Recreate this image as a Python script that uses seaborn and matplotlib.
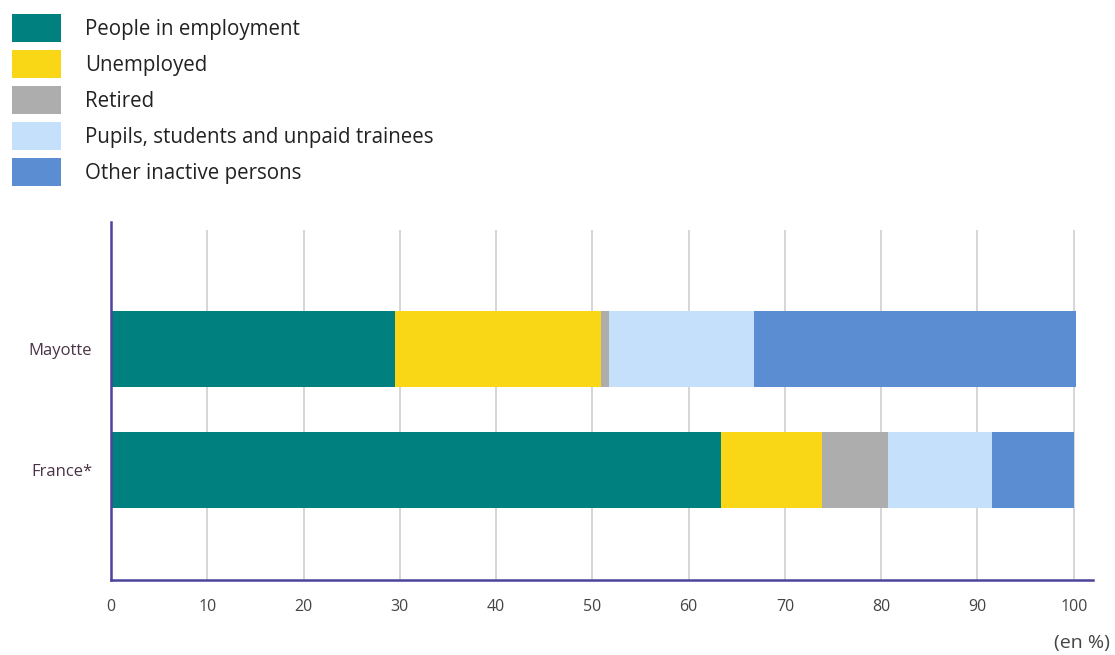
import matplotlib
matplotlib.use("Agg")
import matplotlib.pyplot as plt
from matplotlib.patches import Patch
import numpy as np
import pandas as pd
import seaborn as sns

# Activity status of the population aged 15-64 (in %)
regions = ["Mayotte", "France*"]
statuses = [
    "People in employment",
    "Unemployed",
    "Retired",
    "Pupils, students and unpaid trainees",
    "Other inactive persons",
]
employed = [29.5, 63.4]
unemployed = [21.4, 10.5]
retired = [0.8, 6.8]
students = [15.1, 10.8]
other_inactive = [33.4, 8.5]
x_ticks = [0, 10, 20, 30, 40, 50, 60, 70, 80, 90, 100]

colors = ["#00807f", "#f9d616", "#adadad", "#c5e0fa", "#5b8dd3"]
spine_color = "#4c449c"

sns.set_theme(style="white")
plt.rcParams["font.family"] = ["Open Sans", "DejaVu Sans"]

series = [employed, unemployed, retired, students, other_inactive]
cum = np.cumsum(np.array(series), axis=0)

fig = plt.figure(figsize=(11.15, 6.55), dpi=100)
ax = fig.add_axes([111 / 1115, 75 / 655, (1093 - 111) / 1115, (580 - 222) / 655])

# stacked bars: draw cumulative totals from the outermost segment inwards
for i in range(len(statuses) - 1, -1, -1):
    df = pd.DataFrame({"region": regions, "value": cum[i]})
    sns.barplot(data=df, x="value", y="region", orient="h", color=colors[i],
                width=0.63, linewidth=0, saturation=1, ax=ax, zorder=3)

ax.set_xlim(0, 102)
ax.set_ylim(1.91, -1.05)
ax.set_xticks(x_ticks)
ax.set_xticklabels([str(t) for t in x_ticks])
ax.set_xlabel("")
ax.set_ylabel("")

# vertical grid lines
ax.vlines(x_ticks[1:], 1.91, -0.98, colors="#d0d0d0", linewidth=1.2, zorder=1)

for side in ["top", "right"]:
    ax.spines[side].set_visible(False)
for side in ["left", "bottom"]:
    ax.spines[side].set_color(spine_color)
    ax.spines[side].set_linewidth(1.8)
    ax.spines[side].set_zorder(4)

ax.tick_params(axis="x", length=5, width=1, color="#d0d0d0", pad=9,
               labelsize=11.5, labelcolor="#444444")
ax.tick_params(axis="y", length=0, pad=13.5, labelsize=12, labelcolor="#4a3346")

fig.text(1110 / 1115, 1 - 643 / 655, "(en %)", ha="right", va="center",
         fontsize=14, color="#444444")

handles = [Patch(facecolor=c, edgecolor="none") for c in colors]
fig.legend(handles, statuses, loc="upper left",
           bbox_to_anchor=(12 / 1115, 1 - 14 / 655), frameon=False,
           fontsize=14.8, handlelength=2.38, handleheight=1.72,
           handletextpad=1.17, labelspacing=0.39, borderpad=0,
           borderaxespad=0, labelcolor="#222222")

fig.savefig("out.png", dpi=100, facecolor="white")
